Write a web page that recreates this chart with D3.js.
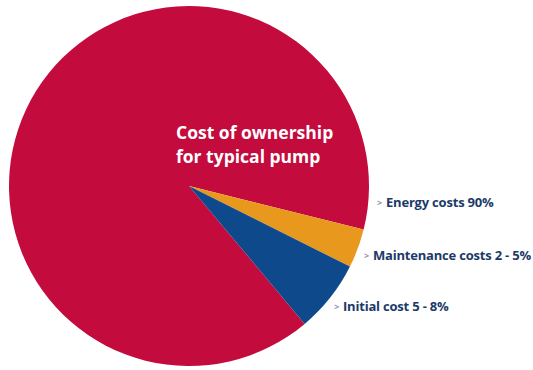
<!DOCTYPE html>
<html lang="en">
<head>
  <meta charset="UTF-8">
  <title>Cost of ownership for typical pump</title>
  <script src="https://d3js.org/d3.v7.min.js"></script>
  <style>
    body { margin: 0; background: #fff; font-family: "Open Sans", sans-serif; }
    .label { font-weight: 700; font-size: 13px; fill: #1b3a68; letter-spacing: -0.2px; }
    .arrow { font-weight: 700; font-size: 9px; fill: #8b98a8; }
    .title { font-weight: 700; font-size: 17.5px; fill: #fff; }
  </style>
</head>
<body>
<svg width="533" height="370"></svg>

<script>
  // data
  const categories = ["Energy costs", "Maintenance costs", "Initial cost"];
  const shares = [90, 3.5, 6.5];
  const labels = ["Energy costs 90%", "Maintenance costs 2 - 5%", "Initial cost 5 - 8%"];
  const colors = ["#c30b3e", "#e9981e", "#0e4a8b"];
  const titleLines = ["Cost of ownership", "for typical pump"];

  const data = categories.map((c, i) => ({ name: c, value: shares[i], label: labels[i] }));

  const svg = d3.select("svg"),
        cx = 189, cy = 186, radius = 180,
        g = svg.append("g").attr("transform", `translate(${cx},${cy})`);

  const color = d3.scaleOrdinal().domain(categories).range(colors);

  // energy slice ends ~15deg below 3 o'clock going clockwise
  const start = 140 * Math.PI / 180;
  const pie = d3.pie()
                .sort(null)
                .value(d => d.value)
                .startAngle(start)
                .endAngle(start + 2 * Math.PI);

  const arc = d3.arc().innerRadius(0).outerRadius(radius);

  g.selectAll("path")
    .data(pie(data))
    .join("path")
      .attr("d", arc)
      .attr("fill", d => color(d.data.name));

  // title inside the big slice
  g.append("text")
    .attr("class", "title")
    .attr("y", -47)
    .selectAll("tspan")
    .data(titleLines)
    .join("tspan")
      .attr("x", -13)
      .attr("dy", (d, i) => i ? 24 : 0)
      .text(d => d);

  // labels to the right of the pie
  const labelPos = [
    { x: 188, y: 21 },
    { x: 175, y: 74 },
    { x: 145, y: 125 }
  ];

  const lab = g.selectAll("g.lab")
    .data(data)
    .join("g")
      .attr("class", "lab")
      .attr("transform", (d, i) => `translate(${labelPos[i].x},${labelPos[i].y})`);

  lab.append("text")
    .attr("class", "arrow")
    .attr("x", 0)
    .attr("y", -1)
    .text(">");

  lab.append("text")
    .attr("class", "label")
    .attr("x", 9)
    .text(d => d.label);
</script>
</body>
</html>
